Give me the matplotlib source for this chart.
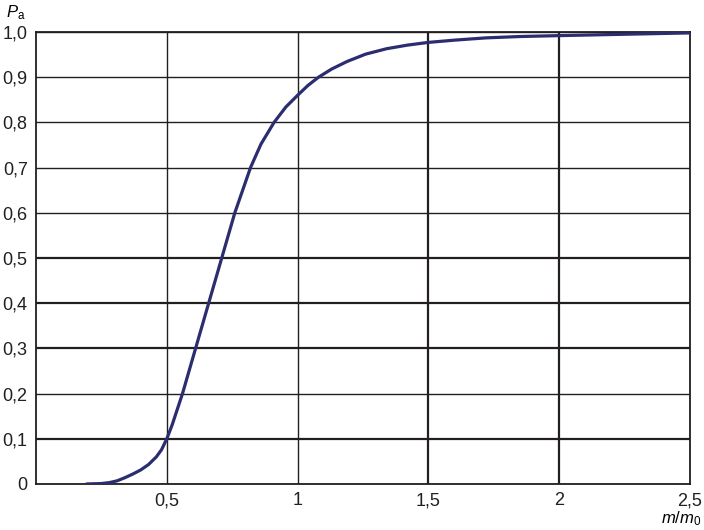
import matplotlib
matplotlib.use("Agg")
import matplotlib.pyplot as plt

# operating characteristic curve
ratio = [0.19, 0.22, 0.25, 0.28, 0.31, 0.34, 0.37, 0.40, 0.43, 0.46, 0.48,
         0.50, 0.52, 0.54, 0.56, 0.585, 0.61, 0.635, 0.66, 0.685, 0.71, 0.735,
         0.76, 0.79, 0.82, 0.86, 0.91, 0.955, 1.00, 1.04, 1.08, 1.13, 1.19,
         1.26, 1.34, 1.42, 1.50, 1.60, 1.72, 1.85, 2.00, 2.25, 2.50]
pa = [0.0, 0.0005, 0.001, 0.003, 0.007, 0.014, 0.022, 0.031, 0.043, 0.060, 0.076,
      0.100, 0.130, 0.165, 0.200, 0.250, 0.300, 0.350, 0.400, 0.450, 0.500, 0.550,
      0.600, 0.650, 0.700, 0.752, 0.800, 0.834, 0.860, 0.882, 0.900, 0.918, 0.935,
      0.951, 0.963, 0.971, 0.977, 0.982, 0.987, 0.990, 0.992, 0.995, 0.998]

x_ticks = [0.5, 1.0, 1.5, 2.0, 2.5]
x_labels = ["0,5", "1", "1,5", "2", "2,5"]
y_ticks = [0.0, 0.1, 0.2, 0.3, 0.4, 0.5, 0.6, 0.7, 0.8, 0.9, 1.0]
y_labels = ["0", "0,1", "0,2", "0,3", "0,4", "0,5", "0,6", "0,7", "0,8", "0,9", "1,0"]
# the scanned grid has some heavier lines
heavy_x = [1.5, 2.0]
heavy_y = [0.1, 0.3, 0.4, 0.5]

plt.rcParams["font.family"] = ["Liberation Sans", "DejaVu Sans"]
plt.rcParams["mathtext.fontset"] = "custom"
plt.rcParams["mathtext.it"] = "Liberation Sans:italic"
plt.rcParams["mathtext.rm"] = "Liberation Sans"

grid_col = "#231f20"
fig = plt.figure(figsize=(7.04, 5.30), dpi=100)
ax = fig.add_axes([36 / 704, 46 / 530, 654 / 704, 452 / 530])

for v in x_ticks:
    ax.axvline(v, color=grid_col, lw=1.6 if v in heavy_x else 1.0, zorder=1)
for v in y_ticks:
    ax.axhline(v, color=grid_col, lw=1.6 if v in heavy_y else 1.0, zorder=1)

ax.plot(ratio, pa, color="#2b2d6e", lw=2.3, solid_capstyle="butt",
        solid_joinstyle="round", zorder=3)

ax.set_xlim(0, 2.5)
ax.set_ylim(0, 1.0)
ax.set_xticks(x_ticks)
ax.set_xticklabels(x_labels)
ax.set_yticks(y_ticks)
ax.set_yticklabels(y_labels)
ax.tick_params(length=0, labelsize=13, pad=6, colors=grid_col)
for s in ax.spines.values():
    s.set_color(grid_col)
    s.set_linewidth(1.3)

fig.text(6 / 704, 1 - 17 / 530, r"$P_\mathrm{a}$", fontsize=12, ha="left", va="baseline")
fig.text(701 / 704, 1 - 523 / 530, r"$m/m_\mathrm{0}$", fontsize=12, ha="right", va="baseline")

fig.savefig("out.png", dpi=100)
